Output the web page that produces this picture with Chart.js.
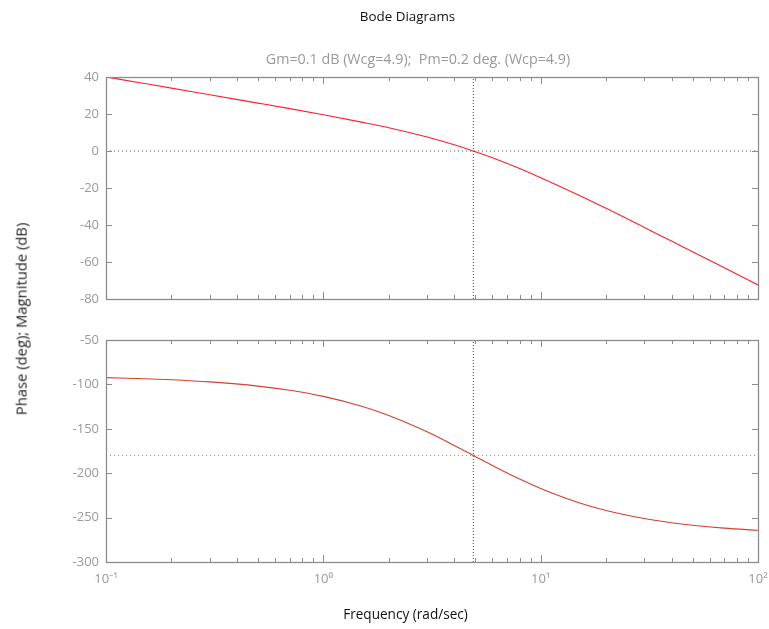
<!DOCTYPE html>
<html>
<head>
<meta charset="utf-8">
<script src="https://cdn.jsdelivr.net/npm/chart.js@4"></script>
<style>
  html, body { margin: 0; padding: 0; background: #fff; }
  #wrap { position: relative; width: 769px; height: 629px; overflow: hidden; font-family: "Open Sans", "Liberation Sans", Arial, sans-serif; }
  canvas { position: absolute; left: 0; }
  .txt { position: absolute; white-space: nowrap; font-weight: normal; line-height: 1; }
  #title { left: 0; width: 815px; top: 10px; text-align: center; font-size: 13.4px; color: #111; }
  #sub { left: 0; width: 836px; top: 52px; text-align: center; font-size: 14.3px; color: #999; }
  #xlab { left: 0; width: 811px; top: 607px; text-align: center; font-size: 13.6px; color: #111; }
  #ylab { left: 21px; top: 319px; font-size: 14.8px; color: #222; transform: translate(-50%, -50%) rotate(-90deg); }
</style>
</head>
<body>
<div id="wrap">
  <canvas id="mag" width="769" height="320" style="top:0px"></canvas>
  <canvas id="pha" width="769" height="309" style="top:320px"></canvas>
  <div class="txt" id="title">Bode Diagrams</div>
  <div class="txt" id="sub">Gm=0.1 dB (Wcg=4.9);&nbsp; Pm=0.2 deg. (Wcp=4.9)</div>
  <div class="txt" id="xlab">Frequency (rad/sec)</div>
  <div class="txt" id="ylab">Phase (deg); Magnitude (dB)</div>
</div>
<script>
// ---- data ----
const freq  = [0.1, 0.15, 0.2, 0.3, 0.5, 0.7, 1, 1.5, 2, 3, 4, 4.9, 6, 8, 10, 15, 20, 30, 40, 50, 70, 100];
const magDb = [40.0, 36.5, 34.0, 30.4, 25.9, 22.9, 19.6, 15.6, 12.6, 7.6, 3.4, 0.0, -3.7, -9.5, -14.4, -23.9, -31.0, -41.3, -48.7, -54.4, -63.1, -72.4];
const phaseDeg = [-92.4, -93.6, -94.8, -97.2, -101.9, -106.6, -113.5, -124.6, -135.0, -153.4, -168.7, -180.0, -191.3, -206.6, -217.2, -233.3, -242.0, -251.1, -255.8, -258.6, -261.8, -264.3];
const crossFreq = 4.9;      // Wcg = Wcp
const magRef = 0;           // 0 dB line
const phaseRef = -180;      // -180 deg line
const xRange = [0.1, 100];
const magRange = [-80, 40];
const phaseRange = [-300, -50];
const xTicks = [0.1,0.2,0.3,0.4,0.5,0.6,0.7,0.8,0.9,1,2,3,4,5,6,7,8,9,10,20,30,40,50,60,70,80,90,100];
const xMajor = [0.1, 1, 10, 100];
const xMajorLabels = ['10\u207B\u00B9', '10\u2070', '10\u00B9', '10\u00B2'];

const AXIS = '#8c8c8c';
const LABEL = '#999999';
const FONT = '"Open Sans", "Liberation Sans", Arial, sans-serif';

const framePlugin = {
  id: 'frame',
  afterDatasetsDraw(chart) {
    const ctx = chart.ctx, a = chart.chartArea;
    const xs = chart.scales.x, ys = chart.scales.y;
    ctx.save();
    ctx.strokeStyle = AXIS;
    ctx.lineWidth = 1;
    ctx.beginPath();
    xTicks.forEach(v => {
      const px = Math.round(xs.getPixelForValue(v)) + 0.5;
      const len = xMajor.includes(v) ? 7 : 4;
      ctx.moveTo(px, a.top); ctx.lineTo(px, a.top + len);
      ctx.moveTo(px, a.bottom); ctx.lineTo(px, a.bottom - len);
    });
    ys.ticks.forEach(t => {
      const py = Math.round(ys.getPixelForValue(t.value)) + 0.5;
      ctx.moveTo(a.left, py); ctx.lineTo(a.left + 6, py);
      ctx.moveTo(a.right, py); ctx.lineTo(a.right - 6, py);
    });
    ctx.stroke();
    ctx.lineWidth = 1.3;
    ctx.strokeRect(Math.round(a.left) + 0.5, Math.round(a.top) + 0.5, Math.round(a.right - a.left), Math.round(a.bottom - a.top));
    ctx.restore();
  }
};

function makeChart(id, values, yRange, yStep, refY, lineColor, refColor, pad, showX) {
  return new Chart(document.getElementById(id), {
    type: 'line',
    data: {
      datasets: [
        { data: freq.map((f, i) => ({ x: f, y: values[i] })), borderColor: lineColor, borderWidth: 1.1,
          pointRadius: 0, cubicInterpolationMode: 'monotone', fill: false, order: 0 },
        { data: [{ x: xRange[0], y: refY }, { x: xRange[1], y: refY }], borderColor: refColor, borderWidth: 1,
          borderDash: [1, 3], pointRadius: 0, fill: false, order: 1 },
        { data: [{ x: crossFreq, y: yRange[0] }, { x: crossFreq, y: yRange[1] }], borderColor: '#444', borderWidth: 1,
          borderDash: [1, 2], pointRadius: 0, fill: false, order: 1 }
      ]
    },
    options: {
      responsive: false, animation: false, devicePixelRatio: 1,
      layout: { padding: pad, autoPadding: false },
      plugins: { legend: { display: false }, tooltip: { enabled: false } },
      scales: {
        x: {
          type: 'logarithmic', min: xRange[0], max: xRange[1], display: showX,
          grid: { drawOnChartArea: false, drawTicks: false }, border: { display: false },
          afterBuildTicks: s => { s.ticks = xTicks.map(v => ({ value: v })); },
          afterFit: s => { s.height = showX ? 40 : 0; s.paddingLeft = 0; s.paddingRight = 0; },
          ticks: {
            autoSkip: false, maxRotation: 0, padding: 9, color: LABEL,
            font: { family: FONT, size: 13 },
            callback: v => { const i = xMajor.indexOf(v); return i >= 0 ? xMajorLabels[i] : ''; }
          }
        },
        y: {
          min: yRange[0], max: yRange[1],
          grid: { drawOnChartArea: false, drawTicks: false }, border: { display: false },
          afterFit: s => { s.width = 106; s.paddingTop = 0; s.paddingBottom = 0; },
          ticks: { stepSize: yStep, padding: 7, color: LABEL, font: { family: FONT, size: 13 } }
        }
      }
    },
    plugins: [framePlugin]
  });
}

makeChart('mag', magDb, magRange, 20, magRef, '#ff1f2a', '#555', { top: 77, right: 11, bottom: 21, left: 0 }, false);
makeChart('pha', phaseDeg, phaseRange, 50, phaseRef, '#d4402c', '#888', { top: 20, right: 11, bottom: 27, left: 0 }, true);
</script>
</body>
</html>
